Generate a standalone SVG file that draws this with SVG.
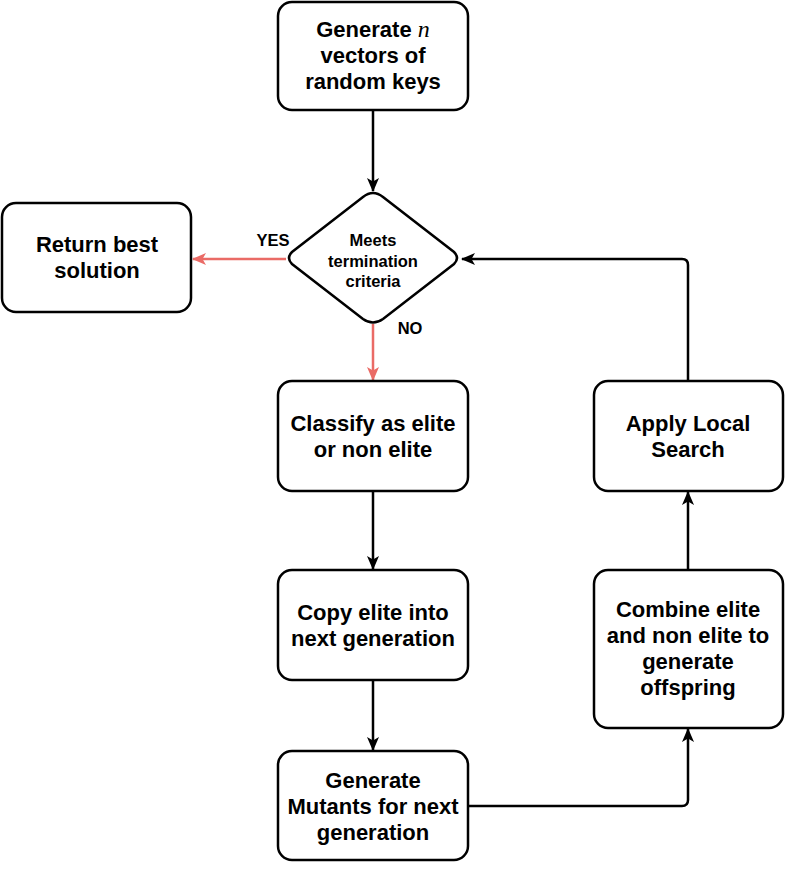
<svg xmlns="http://www.w3.org/2000/svg" width="787" height="873" viewBox="0 0 787 873">
<style>
.box{fill:#fff;stroke:#000;stroke-width:2.5}
.t{font-family:"Liberation Sans",Arial,sans-serif;font-weight:bold;font-size:22px;fill:#000;text-anchor:middle}
.s{font-size:16.5px}
.e{fill:none;stroke:#000;stroke-width:2.5}
.r{fill:none;stroke:#ea6b66;stroke-width:2.5}
</style>
<defs>
<marker id="ab" markerWidth="14" markerHeight="14" viewBox="0 0 14 14" refX="13" refY="7" orient="auto" markerUnits="userSpaceOnUse">
<path d="M0,1 L14,7 L0,13 L3.5,7 z" fill="#000"/>
</marker>
<marker id="ar" markerWidth="14" markerHeight="14" viewBox="0 0 14 14" refX="13" refY="7" orient="auto" markerUnits="userSpaceOnUse">
<path d="M0,1 L14,7 L0,13 L3.5,7 z" fill="#ea6b66"/>
</marker>
</defs>
<rect width="787" height="873" fill="#fff"/>
<g id="connectors">
<path class="e" d="M373,110 V191" marker-end="url(#ab)"/>
<path class="r" d="M286,259 H193" marker-end="url(#ar)"/>
<path class="r" d="M373,324 V380" marker-end="url(#ar)"/>
<path class="e" d="M373,491 V569" marker-end="url(#ab)"/>
<path class="e" d="M373,680 V750" marker-end="url(#ab)"/>
<path class="e" d="M468,806 H682 Q688,806 688,800 V729" marker-end="url(#ab)"/>
<path class="e" d="M688,569 V492" marker-end="url(#ab)"/>
<path class="e" d="M688,381 V265 Q688,259 682,259 H462" marker-end="url(#ab)"/>
<text class="t s" x="273" y="246">YES</text>
<text class="t s" x="410" y="334">NO</text>
</g>
<g id="n1">
<rect class="box" x="278" y="2" width="190" height="108" rx="14"/>
<text class="t" x="373" y="37">Generate <tspan font-family="'Liberation Serif',serif" font-style="italic" font-weight="normal" font-size="24">n</tspan></text>
<text class="t" x="373" y="63">vectors of</text>
<text class="t" x="373" y="89">random keys</text>
</g>
<g id="n2">
<path class="box" d="M373,193 Q378,193 383,197 L454,252 Q460,258 454,264 L383,319 Q373,326 363,319 L292,264 Q286,258 292,252 L363,197 Q368,193 373,193 z"/>
<text class="t s" x="373" y="246">Meets</text>
<text class="t s" x="373" y="267">termination</text>
<text class="t s" x="373" y="287">criteria</text>
</g>
<g id="n3">
<rect class="box" x="2" y="203" width="189" height="109" rx="14"/>
<text class="t" x="97" y="252">Return best</text>
<text class="t" x="97" y="278">solution</text>
</g>
<g id="n4">
<rect class="box" x="278" y="381" width="190" height="110" rx="14"/>
<text class="t" x="373" y="431">Classify as elite</text>
<text class="t" x="373" y="457">or non elite</text>
</g>
<g id="n5">
<rect class="box" x="278" y="570" width="190" height="110" rx="14"/>
<text class="t" x="373" y="620">Copy elite into</text>
<text class="t" x="373" y="646">next generation</text>
</g>
<g id="n6">
<rect class="box" x="278" y="751" width="190" height="109" rx="14"/>
<text class="t" x="373" y="788">Generate</text>
<text class="t" x="373" y="814">Mutants for next</text>
<text class="t" x="373" y="840">generation</text>
</g>
<g id="n7">
<rect class="box" x="594" y="570" width="189" height="158" rx="14"/>
<text class="t" x="688" y="617">Combine elite</text>
<text class="t" x="688" y="643">and non elite to</text>
<text class="t" x="688" y="669">generate</text>
<text class="t" x="688" y="695">offspring</text>
</g>
<g id="n8">
<rect class="box" x="594" y="381" width="189" height="110" rx="14"/>
<text class="t" x="688" y="431">Apply Local</text>
<text class="t" x="688" y="457">Search</text>
</g>
</svg>
